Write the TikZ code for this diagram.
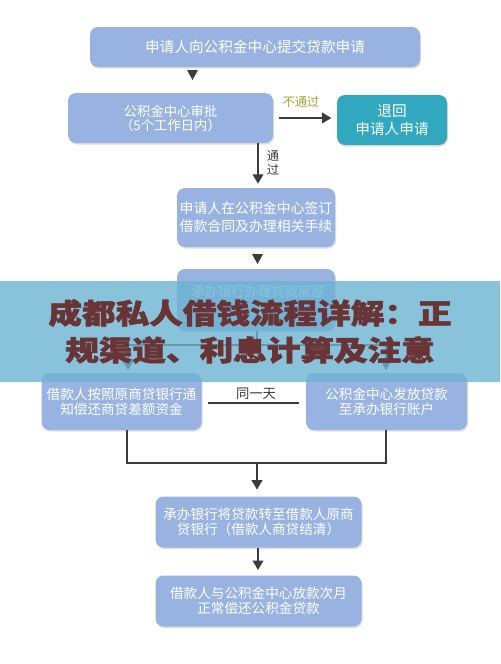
\documentclass[tikz,border=0pt]{standalone}
\usepackage{fontspec}
\usepackage{graphicx}
\newfontfamily\cjk{Noto Sans CJK SC}
\newfontfamily\banfont[BoldFeatures={FakeBold=2}]{Noto Sans CJK SC}
\usetikzlibrary{arrows.meta,shadows,calc}
\definecolor{boxblue}{RGB}{152,179,226}
\definecolor{tealbox}{RGB}{50,168,192}
\definecolor{linegray}{RGB}{60,60,60}
\definecolor{olive}{RGB}{160,166,58}
\definecolor{bannerblue}{RGB}{108,180,211}
\definecolor{maroon}{RGB}{104,52,54}
\tikzset{
  flow/.style={rectangle, rounded corners=6pt, fill=boxblue, inner sep=0pt,
    text=white, align=center, font=\cjk\fontsize{10.2}{11.3}\selectfont,
    drop shadow={opacity=0.25, shadow xshift=0.8pt, shadow yshift=-1.2pt}},
  rejbox/.style={flow, fill=tealbox, font=\cjk\fontsize{11}{13.5}\selectfont},
  conn/.style={draw=linegray, line width=1.1pt},
  arr/.style={conn, -{Triangle[width=8pt,length=7pt]}},
  lbl/.style={font=\cjk\fontsize{9.2}{10.5}\selectfont, text=linegray, inner sep=0pt, align=center},
}
\begin{document}
\begin{tikzpicture}[x=0.75pt,y=-0.75pt]
\fill[white] (0,0) rectangle (500,664);
\useasboundingbox (0,0) rectangle (500,664);

\node[flow, minimum width=247.5pt, minimum height=30pt, font=\cjk\fontsize{11}{12}\selectfont] (b1) at (255,47) {申请人向公积金中心提交贷款申请};
\node[flow, minimum width=153.75pt, minimum height=37.5pt, font=\cjk\fontsize{10}{10.5}\selectfont] (b2) at (170.5,118) {公积金中心审批\\（5个工作日内）};
\node[rejbox, minimum width=82.5pt, minimum height=37.5pt] (rej) at (392,120) {退回\\申请人申请};
\node[flow, minimum width=118.5pt, minimum height=44.25pt, font=\cjk\fontsize{10.4}{13.5}\selectfont] (b3) at (256,217.5) {申请人在公积金中心签订\\借款合同及办理相关手续};
\node[flow, minimum width=118.5pt, minimum height=46.5pt] (b4) at (256,300) {};
\node[lbl, text=white, font=\cjk\fontsize{10}{11}\selectfont] (b4t) at (258,291) {承办银行办理贷款房屋};
\node[flow, minimum width=120pt, minimum height=42.75pt] (b5) at (121.5,401.5) {借款人按照原商贷银行通\\知偿还商贷差额资金};
\node[flow, minimum width=120.75pt, minimum height=42.75pt] (b6) at (386.5,401.5) {公积金中心发放贷款\\至承办银行账户};
\node[flow, minimum width=154.5pt, minimum height=38.25pt] (b7) at (258.5,522) {承办银行将贷款转至借款人原商\\贷银行（借款人商贷结清）};
\node[flow, minimum width=154.5pt, minimum height=38.25pt] (b8) at (258.5,601) {借款人与公积金中心放款次月\\正常偿还公积金贷款};

% standalone triangles
\coordinate (t1) at (192.5,80);
\fill[linegray] (t1) -- ++(-5.5,-10) -- ++(11,0) -- cycle;
\coordinate (t2) at (257.5,264);
\fill[linegray] (t2) -- ++(-5.5,-10) -- ++(11,0) -- cycle;

% approval branches
\draw[arr, shorten <=4pt, shorten >=4pt] (b2.east |- 0,118) -- (rej.west |- 0,118);
\node[lbl, text=olive] (nt) at (301,102) {不通过};
\draw[arr, shorten >=3pt] (b2.south -| 258,0) -- (b3.north -| 258,0);
\node[lbl] (tg) at (273,163) {通\\过};

% split
\coordinate (j1) at (257,345);
\draw[conn] (b4.south -| j1) -- (j1);
\draw[arr, shorten >=2pt] (j1) -| (b5.north -| 128,0);
\draw[arr, shorten >=2pt] (j1) -| (b6.north -| 386,0);

% same day
\draw[conn] ([xshift=5pt]b5.east |- 0,403) -- ([xshift=-5pt]b6.west |- 0,403);
\node[lbl, font=\cjk\fontsize{10}{11}\selectfont] (sd) at (256,394) {同一天};

% merge
\coordinate (j2) at (257,463);
\draw[conn] (b5.south -| 127,0) |- (j2) -| (b6.south -| 386,0);
\draw[arr, shorten >=5pt] (j2) -- (b7.north -| j2);
\draw[arr, shorten >=4pt] (b7.south -| 258,0) -- (b8.north -| 258,0);

% banner overlay
\node[rectangle, fill=bannerblue, fill opacity=0.8, minimum width=375pt, minimum height=75.75pt, inner sep=0pt] (banner) at (250,331.5) {};
\node[inner sep=0pt, align=center, text=maroon, font=\banfont\bfseries\fontsize{21}{27.75}\selectfont] (bantext) at (250,331.5) {\scalebox{1.2}[1]{成都私人借钱流程详解：正}\\\scalebox{1.2}[1]{规渠道、利息计算及注意}};
\end{tikzpicture}
\end{document}
